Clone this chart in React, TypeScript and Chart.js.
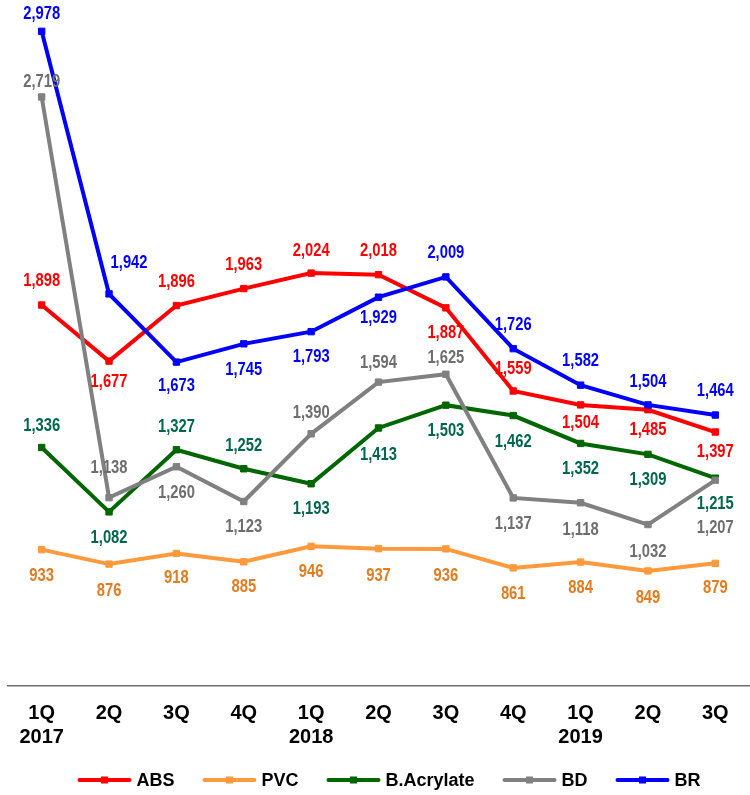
import React, { useEffect, useRef } from 'react';
import { Chart, registerables } from 'chart.js';

Chart.register(...registerables);

// ---------- data ----------
const categories: (string | string[])[] = [
  ['1Q', '2017'], '2Q', '3Q', '4Q',
  ['1Q', '2018'], '2Q', '3Q', '4Q',
  ['1Q', '2019'], '2Q', '3Q',
];
const seriesNames = ['ABS', 'PVC', 'B.Acrylate', 'BD', 'BR'];
const absValues = [1898, 1677, 1896, 1963, 2024, 2018, 1887, 1559, 1504, 1485, 1397];
const pvcValues = [933, 876, 918, 885, 946, 937, 936, 861, 884, 849, 879];
const acrylateValues = [1336, 1082, 1327, 1252, 1193, 1413, 1503, 1462, 1352, 1309, 1215];
const bdValues = [2719, 1138, 1260, 1123, 1390, 1594, 1625, 1137, 1118, 1032, 1207];
const brValues = [2978, 1942, 1673, 1745, 1793, 1929, 2009, 1726, 1582, 1504, 1464];

// ---------- styling ----------
const FONT = '"Liberation Sans", Arial, Helvetica, sans-serif';
const lineColors = ['#FF0000', '#FF9A3C', '#006600', '#808080', '#0000FF'];
const labelColors = ['#FF0000', '#E47B1F', '#00664F', '#6E6E6E', '#0000FF'];
// label vertical offsets (px from marker centre), per series
const labelDy = [
  [-24, 21, -24, -24, -22, -24, 25, -22, 18, 20, 20],
  [26, 27, 25, 25, 26, 27, 27, 26, 26, 27, 25],
  [-21, 26, -23, -23, 25, 27, 26, 26, 26, 26, 26],
  [-15, -30, 26, 26, -21, -19, -16, 26, 27, 27, 48],
  [-17, -31, 24, 26, 25, 21, -24, -24, -24, -23, -24],
];
const labelDx = [
  [0, 0, 0, 0, 0, 0, 0, 0, 0, 0, 0],
  [0, 0, 0, 0, 0, 0, 0, 0, 0, 0, 0],
  [0, 0, 0, 0, 0, 0, 0, 0, 0, 0, 0],
  [0, 0, 0, 0, 0, 0, 0, 0, 0, 0, 0],
  [0, 20, 0, 0, 0, 0, 0, 0, 0, 0, 0],
];

const fmt = (v: number) => String(v).replace(/\B(?=(\d{3})+(?!\d))/g, ',');

const valueLabelPlugin = {
  id: 'valueLabels',
  afterDatasetsDraw(chart: any) {
    const ctx = chart.ctx as CanvasRenderingContext2D;
    chart.data.datasets.forEach((ds: any, i: number) => {
      const meta = chart.getDatasetMeta(i);
      meta.data.forEach((pt: any, j: number) => {
        ctx.save();
        ctx.translate(pt.x + labelDx[i][j], pt.y + labelDy[i][j]);
        ctx.scale(0.82, 1);
        ctx.font = `bold 18px ${FONT}`;
        ctx.fillStyle = labelColors[i];
        ctx.textAlign = 'center';
        ctx.textBaseline = 'middle';
        ctx.fillText(fmt(ds.data[j]), 0, 0);
        ctx.restore();
      });
    });
  },
};

const legendPlugin = {
  id: 'customLegend',
  afterDraw(chart: any) {
    const ctx = chart.ctx as CanvasRenderingContext2D;
    const lineLen = 54;
    const gapText = 5;
    const gapItem = 28;
    const y = 780;
    ctx.save();
    ctx.font = `bold 18px ${FONT}`;
    const widths = seriesNames.map((n) => ctx.measureText(n).width);
    const total = widths.reduce((a, w) => a + lineLen + gapText + w, 0) + gapItem * (seriesNames.length - 1);
    let x = 389 - total / 2;
    seriesNames.forEach((name, i) => {
      ctx.strokeStyle = lineColors[i];
      ctx.lineWidth = 4;
      ctx.lineCap = 'round';
      ctx.beginPath();
      ctx.moveTo(x + 2, y);
      ctx.lineTo(x + lineLen - 2, y);
      ctx.stroke();
      ctx.fillStyle = lineColors[i];
      ctx.fillRect(x + lineLen / 2 - 3.5, y - 3.5, 7, 7);
      ctx.fillStyle = '#000000';
      ctx.textAlign = 'left';
      ctx.textBaseline = 'middle';
      ctx.fillText(name, x + lineLen + gapText, y + 1);
      x += lineLen + gapText + widths[i] + gapItem;
    });
    ctx.restore();
  },
};

export default function App() {
  const canvasRef = useRef<HTMLCanvasElement | null>(null);

  useEffect(() => {
    if (!canvasRef.current) return;
    const seriesValues = [absValues, pvcValues, acrylateValues, bdValues, brValues];
    const chart = new Chart(canvasRef.current, {
      type: 'line',
      data: {
        labels: categories,
        datasets: seriesNames.map((name, i) => ({
          label: name,
          data: seriesValues[i],
          borderColor: lineColors[i],
          backgroundColor: lineColors[i],
          pointBackgroundColor: lineColors[i],
          pointBorderColor: lineColors[i],
          borderWidth: 4,
          pointStyle: 'rect',
          pointRadius: 4.5,
          pointBorderWidth: 1,
          tension: 0,
          fill: false,
          order: seriesNames.length - i,
        })),
      },
      options: {
        responsive: false,
        animation: false,
        layout: { autoPadding: false, padding: { top: 8, left: 8, right: 1, bottom: 31 } },
        plugins: {
          legend: { display: false },
          tooltip: { enabled: false },
        },
        scales: {
          x: {
            offset: true,
            grid: { display: false, drawTicks: false },
            border: { display: true, color: '#6d6d6d', width: 1.5 },
            ticks: {
              color: '#000000',
              padding: 15,
              maxRotation: 0,
              autoSkip: false,
              font: { family: FONT, size: 20, weight: 'bold', lineHeight: 1.2 },
            },
          },
          y: {
            display: false,
            min: 395,
            max: 3070,
          },
        },
      },
      plugins: [valueLabelPlugin, legendPlugin],
    });
    return () => chart.destroy();
  }, []);

  return (
    <div style={{ position: 'absolute', left: 0, top: 0, width: 750, height: 795, background: '#ffffff' }}>
      <canvas ref={canvasRef} width={750} height={795} style={{ display: 'block' }} />
    </div>
  );
}
